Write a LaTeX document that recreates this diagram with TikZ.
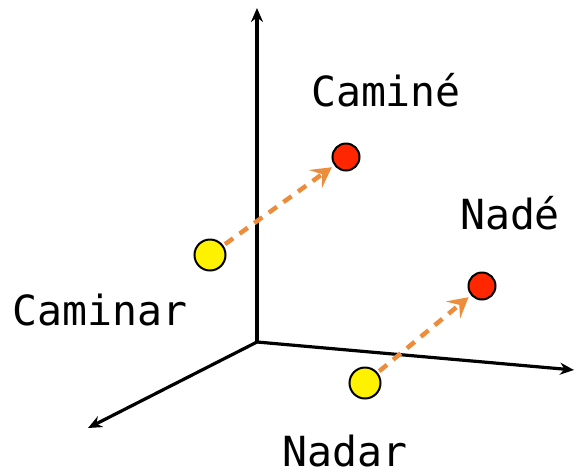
\documentclass[tikz,border=0pt]{standalone}
\usepackage{fontspec}
\setmonofont{DejaVu Sans Mono}
\usetikzlibrary{arrows.meta}
\definecolor{ylw}{RGB}{255,242,0}
\definecolor{rd}{RGB}{255,38,0}
\definecolor{org}{RGB}{237,140,58}
\begin{document}
\begin{tikzpicture}[x=1pt,y=-1pt,
  axis/.style={line width=3.2pt,-{Stealth[length=14pt,width=12pt]}},
  src/.style={circle,draw=black,line width=2pt,fill=ylw,minimum size=31pt,inner sep=0pt},
  dst/.style={circle,draw=black,line width=2pt,fill=rd,minimum size=27pt,inner sep=0pt},
  mv/.style={draw=org,line width=4.5pt,dash pattern=on 10pt off 8pt,shorten <=2pt,shorten >=3pt,-{Stealth[length=20pt,width=22pt,inset=8pt]}},
  lbl/.style={font=\ttfamily\fontsize{41.5}{46}\selectfont,inner sep=0pt}]
\useasboundingbox (0,0) rectangle (576,475);
\coordinate (O) at (257,342);
\coordinate (Z) at (257,8);
\coordinate (X) at (574,370);
\coordinate (Y) at (88,428);
\draw[axis] (O) -- (Z);
\draw[axis] (O) -- (X);
\draw[axis] (O) -- (Y);
\node[src] (y1) at (210,255) {};
\node[dst] (r1) at (346,157) {};
\node[src] (y2) at (365,383) {};
\node[dst] (r2) at (482,286) {};
\draw[mv] (y1) -- (r1);
\draw[mv] (y2) -- (r2);
\node[lbl] (t1) at (386,90) {Caminé};
\node[lbl] (t2) at (510,213) {Nadé};
\node[lbl] (t3) at (100,310) {Caminar};
\node[lbl] (t4) at (345,451) {Nadar};
\end{tikzpicture}
\end{document}
